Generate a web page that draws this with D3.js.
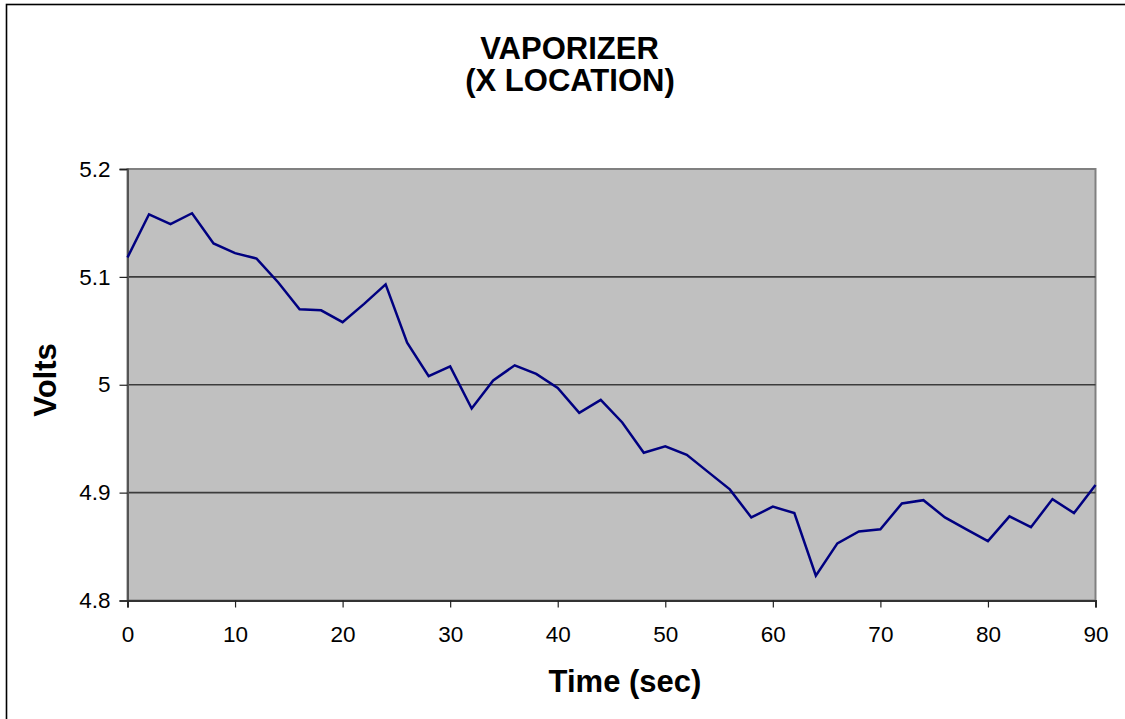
<!DOCTYPE html>
<html>
<head>
<meta charset="utf-8">
<script src="https://cdn.jsdelivr.net/npm/d3@7/dist/d3.min.js"></script>
<style>
  html, body { margin: 0; padding: 0; background: #fff; }
  svg { display: block; font-family: "Liberation Sans", Arial, sans-serif; }
</style>
</head>
<body>
<svg id="chart" width="1125" height="719"></svg>
<script>
// Vaporizer voltage readings at the X location, sampled every 2 seconds
const times = [0, 2, 4, 6, 8, 10, 12, 14, 16, 18, 20, 22, 24, 26, 28, 30, 32, 34, 36, 38,
  40, 42, 44, 46, 48, 50, 52, 54, 56, 58, 60, 62, 64, 66, 68, 70, 72, 74, 76, 78,
  80, 82, 84, 86, 88, 90];
const volts = [5.118, 5.158, 5.149, 5.159, 5.131, 5.122, 5.117, 5.095, 5.070, 5.069,
  5.058, 5.075, 5.093, 5.039, 5.008, 5.017, 4.978, 5.004, 5.018, 5.010,
  4.997, 4.974, 4.986, 4.965, 4.937, 4.943, 4.935, 4.919, 4.903, 4.877,
  4.887, 4.881, 4.823, 4.853, 4.864, 4.866, 4.890, 4.893, 4.877, 4.866,
  4.855, 4.878, 4.868, 4.894, 4.881, 4.907];
const xTicks = [0, 10, 20, 30, 40, 50, 60, 70, 80, 90];
const yTicks = [4.8, 4.9, 5.0, 5.1, 5.2];
const yTickLabels = ["4.8", "4.9", "5", "5.1", "5.2"];
const titleLines = ["VAPORIZER", "(X LOCATION)"];
const xTitle = "Time (sec)";
const yTitle = "Volts";

const svg = d3.select("#chart");

// outer chart frame
svg.append("rect")
  .attr("x", 6.5).attr("y", 4.5)
  .attr("width", 1140).attr("height", 740)
  .attr("fill", "#fff").attr("stroke", "#000").attr("stroke-width", 1.6);

const plot = { left: 127.5, right: 1095.5, top: 169, bottom: 600.5 };

const x = d3.scaleLinear().domain([0, 90]).range([plot.left, plot.right]);
const y = d3.scaleLinear().domain([4.8, 5.2]).range([plot.bottom, plot.top]);

// plot background
svg.append("rect")
  .attr("x", plot.left).attr("y", plot.top)
  .attr("width", plot.right - plot.left).attr("height", plot.bottom - plot.top)
  .attr("fill", "#c0c0c0")
  .attr("stroke", "#808080").attr("stroke-width", 2);

// horizontal gridlines
svg.append("g")
  .selectAll("line")
  .data(yTicks.filter(v => v > 4.8 && v < 5.2))
  .join("line")
  .attr("x1", plot.left).attr("x2", plot.right)
  .attr("y1", d => y(d)).attr("y2", d => y(d))
  .attr("stroke", "#3c3c3c").attr("stroke-width", 1.6);

// y axis
const yAxis = d3.axisLeft(y)
  .tickValues(yTicks)
  .tickFormat((d, i) => yTickLabels[i])
  .tickSize(8).tickPadding(9);
const gy = svg.append("g").attr("transform", `translate(${plot.left},0)`).call(yAxis);
gy.select(".domain").attr("stroke", "#555").attr("stroke-width", 2);
gy.selectAll(".tick line").attr("stroke", "#222").attr("stroke-width", 1.2);
gy.selectAll(".tick text")
  .attr("font-size", 22.5).attr("fill", "#000")
  .attr("font-family", "'Liberation Sans', Arial, sans-serif");

// x axis
const xAxis = d3.axisBottom(x)
  .tickValues(xTicks)
  .tickSize(7).tickPadding(19);
const gx = svg.append("g").attr("transform", `translate(0,${plot.bottom})`).call(xAxis);
gx.select(".domain").attr("stroke", "#333").attr("stroke-width", 2);
gx.selectAll(".tick line").attr("stroke", "#222").attr("stroke-width", 1.2);
gx.selectAll(".tick text")
  .attr("font-size", 22.5).attr("fill", "#000")
  .attr("font-family", "'Liberation Sans', Arial, sans-serif");

// data line
const line = d3.line()
  .x((d, i) => x(times[i]))
  .y(d => y(d));
svg.append("path")
  .datum(volts)
  .attr("d", line)
  .attr("fill", "none")
  .attr("stroke", "#000080")
  .attr("stroke-width", 2.5)
  .attr("stroke-linejoin", "miter");

// title
svg.append("text")
  .attr("x", 569.5).attr("y", 59)
  .attr("text-anchor", "middle")
  .attr("font-size", 31).attr("font-weight", "bold")
  .text(titleLines[0]);
svg.append("text")
  .attr("x", 570).attr("y", 91)
  .attr("text-anchor", "middle")
  .attr("font-size", 31).attr("font-weight", "bold")
  .text(titleLines[1]);

// axis titles
svg.append("text")
  .attr("x", 625).attr("y", 692)
  .attr("text-anchor", "middle")
  .attr("font-size", 31).attr("font-weight", "bold")
  .text(xTitle);
svg.append("text")
  .attr("transform", "translate(56,380) rotate(-90)")
  .attr("text-anchor", "middle")
  .attr("font-size", 31).attr("font-weight", "bold")
  .text(yTitle);
</script>
</body>
</html>
